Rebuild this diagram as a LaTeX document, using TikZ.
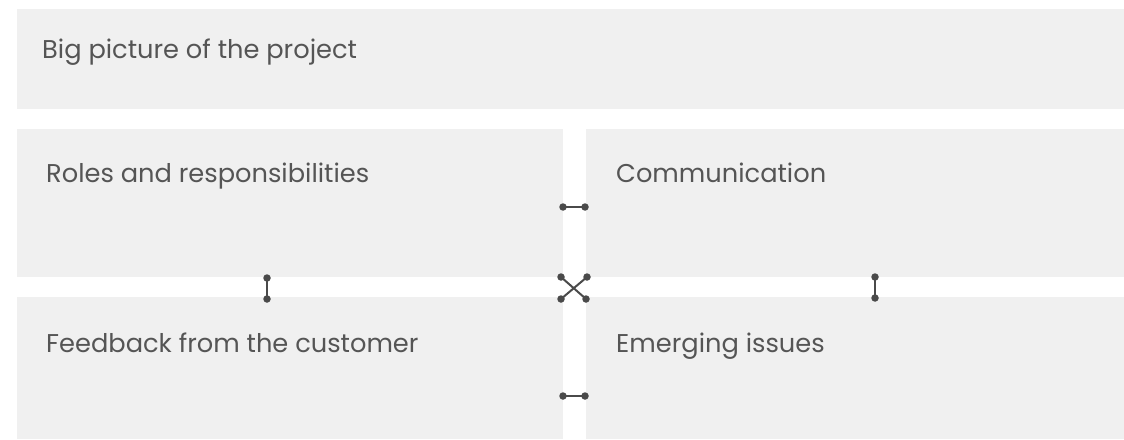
\documentclass[tikz,border=0pt]{standalone}
\usepackage{fontspec}
\setmainfont{Poppins}[Ligatures=NoCommon]
\definecolor{boxfill}{HTML}{F0F0F0}
\definecolor{txt}{HTML}{555555}
\definecolor{link}{HTML}{4A4A4A}
\begin{document}
\begin{tikzpicture}[x=1pt,y=-1pt,
  panel/.style={fill=boxfill,draw=none},
  lbl/.style={anchor=base west,inner sep=0pt,text=txt,font=\fontsize{25.7}{31}\selectfont},
  linkline/.style={draw=link,line width=2pt},
  dot/.style={circle,fill=link,inner sep=0pt,minimum size=7.5pt}]
\useasboundingbox (0,0) rectangle (1124,439);
% panels
\fill[panel] (17,9) rectangle (1124,109);
\fill[panel] (17,129) rectangle (563,277);
\fill[panel] (586,129) rectangle (1124,277);
\fill[panel] (17,297) rectangle (563,439);
\fill[panel] (586,297) rectangle (1124,439);
% labels
\node[lbl] (big) at (42,58) {Big picture of the project};
\node[lbl] (roles) at (46,182) {Roles and responsibilities};
\node[lbl] (comm) at (616,182) {Communication};
\node[lbl] (feed) at (46,352) {Feedback from the customer};
\node[lbl] (emerg) at (616,352) {Emerging issues};
% connector end points
\coordinate (h1a) at (563,207); \coordinate (h1b) at (585,207);
\coordinate (h2a) at (563,396); \coordinate (h2b) at (585,396);
\coordinate (v1a) at (267,278); \coordinate (v1b) at (267,299);
\coordinate (v2a) at (875,277); \coordinate (v2b) at (875,298);
\coordinate (xa) at (561,277); \coordinate (xb) at (586,299);
\coordinate (xc) at (587,277); \coordinate (xd) at (561,299);
% connectors
\draw[linkline] (h1a) -- (h1b);
\draw[linkline] (h2a) -- (h2b);
\draw[linkline] (v1a) -- (v1b);
\draw[linkline] (v2a) -- (v2b);
\draw[linkline] (xa) -- (xb);
\draw[linkline] (xc) -- (xd);
\foreach \p in {h1a,h1b,h2a,h2b,v1a,v1b,v2a,v2b,xa,xb,xc,xd}
  \node[dot] at (\p) {};
\end{tikzpicture}
\end{document}
